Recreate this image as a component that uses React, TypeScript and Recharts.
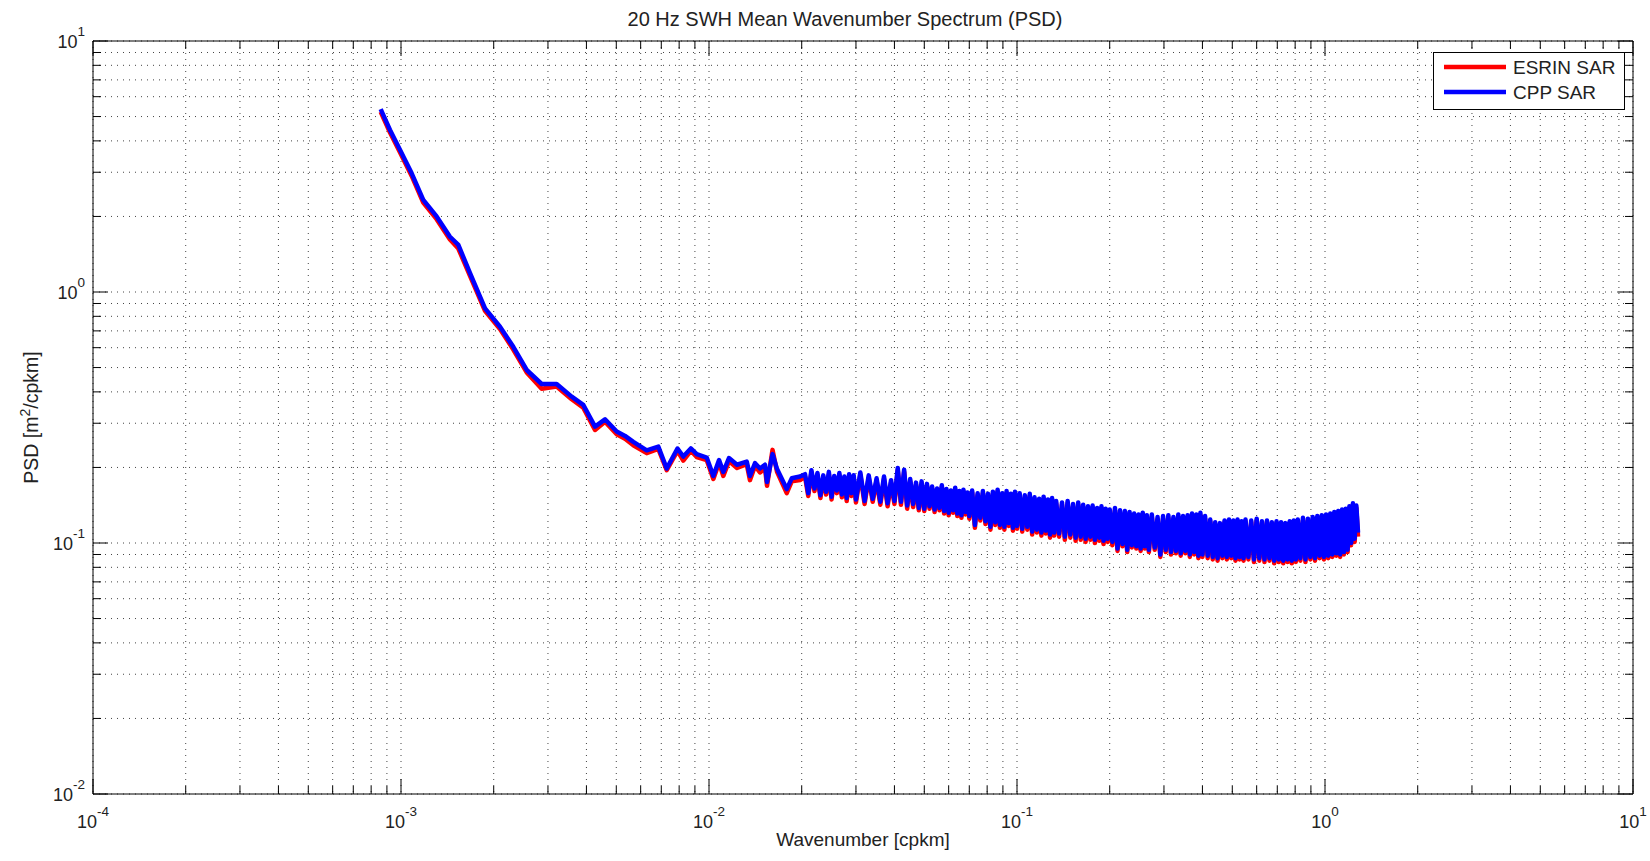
import { LineChart, Line, XAxis, YAxis, CartesianGrid, ReferenceLine } from 'recharts';

// Número de onda [cpkm]
const numeroOnda = [
  8.59e-4, 9.21e-4, 9.93e-4, 1.083e-3, 1.181e-3, 1.305e-3, 1.442e-3, 1.535e-3, 1.675e-3, 1.874e-3,
  2.096e-3, 2.315e-3, 2.559e-3, 2.862e-3, 3.201e-3, 3.582e-3, 3.906e-3, 4.265e-3, 4.596e-3, 5.016e-3,
  5.338e-3, 5.679e-3, 6.277e-3, 6.846e-3, 7.29e-3, 7.9e-3, 8.25e-3, 8.73e-3, 9.12e-3, 9.83e-3,
  1.033e-2, 1.078e-2, 1.113e-2, 1.161e-2, 1.233e-2, 1.326e-2, 1.358e-2, 1.411e-2, 1.464e-2, 1.52e-2,
  1.543e-2, 1.608e-2, 1.663e-2, 1.788e-2, 1.856e-2, 1.975e-2,
  // A
  0.0205, 0.021, 0.0215, 0.022, 0.0225, 0.023, 0.0235, 0.024, 0.0245, 0.025,
  0.0255, 0.026, 0.0265, 0.027, 0.0275, 0.028, 0.0285, 0.029, 0.0295, 0.03,
  // B
  0.031, 0.032, 0.033, 0.034, 0.035, 0.036, 0.037, 0.038, 0.039, 0.04,
  0.041, 0.042, 0.043, 0.044, 0.045, 0.046, 0.047, 0.048, 0.049, 0.05,
  // C
  0.051, 0.052, 0.053, 0.054, 0.055, 0.056, 0.057, 0.058, 0.059, 0.06,
  0.061, 0.062, 0.063, 0.064, 0.065, 0.066, 0.067, 0.068, 0.069, 0.07,
  0.0715, 0.073, 0.0745, 0.076, 0.0775, 0.079, 0.0805, 0.082, 0.0835, 0.085,
  0.0865, 0.088, 0.0895, 0.091, 0.0925, 0.094, 0.0955, 0.097, 0.0985, 0.1,
  // D1
  0.102, 0.104, 0.106, 0.108, 0.11, 0.112, 0.114, 0.116, 0.118, 0.12,
  0.122, 0.124, 0.126, 0.128, 0.13, 0.132, 0.134,
  // D2
  0.137, 0.14, 0.143, 0.146, 0.149, 0.152, 0.155, 0.158, 0.161, 0.164,
  0.167, 0.17, 0.173, 0.176, 0.179, 0.182, 0.185, 0.188, 0.191, 0.194,
  0.197, 0.2,
  // E1
  0.204, 0.208, 0.212, 0.216, 0.22, 0.224, 0.228, 0.232, 0.236, 0.24,
  0.244, 0.248, 0.252, 0.256, 0.26, 0.264, 0.268,
  // E2
  0.274, 0.28, 0.286, 0.292, 0.298, 0.304, 0.31, 0.316, 0.322, 0.328,
  0.334, 0.34, 0.346, 0.352, 0.358, 0.364, 0.37, 0.376, 0.382, 0.388,
  0.394, 0.4,
  // F1
  0.408, 0.416, 0.424, 0.432, 0.44, 0.448, 0.456, 0.464, 0.472, 0.48,
  0.488, 0.496, 0.504, 0.512, 0.52, 0.528, 0.536, 0.544, 0.552,
  // F2
  0.564, 0.576, 0.588, 0.6, 0.612, 0.624, 0.636, 0.648, 0.66, 0.672,
  0.684, 0.696, 0.708, 0.72, 0.732, 0.744, 0.756, 0.768, 0.78, 0.792,
  0.804,
  // F3
  0.816, 0.832, 0.848, 0.864, 0.88, 0.896, 0.912, 0.928, 0.944, 0.96,
  0.976, 0.992, 1.008, 1.024, 1.04, 1.056, 1.072, 1.088, 1.104, 1.12,
  1.136, 1.152, 1.168, 1.184, 1.2, 1.216, 1.232, 1.248, 1.264, 1.28,
];

// PSD ESRIN SAR [m^2/cpkm]
const esrinSar = [
  5.22, 4.32, 3.6, 2.9, 2.27, 1.95, 1.62, 1.49, 1.16, 0.842,
  0.712, 0.59, 0.478, 0.412, 0.42, 0.374, 0.346, 0.282, 0.304, 0.271,
  0.26, 0.245, 0.228, 0.237, 0.195, 0.233, 0.213, 0.233, 0.22, 0.214,
  0.18, 0.209, 0.185, 0.212, 0.199, 0.206, 0.178, 0.203, 0.191, 0.199,
  0.169, 0.235, 0.192, 0.158, 0.176, 0.178,
  // A
  0.184, 0.154, 0.191, 0.161, 0.186, 0.151, 0.182, 0.156, 0.188, 0.149,
  0.181, 0.158, 0.186, 0.152, 0.18, 0.147, 0.184, 0.154, 0.182, 0.145,
  // B
  0.187, 0.143, 0.182, 0.146, 0.177, 0.142, 0.18, 0.14, 0.174, 0.143,
  0.195, 0.142, 0.192, 0.137, 0.176, 0.139, 0.171, 0.135, 0.172, 0.134,
  // C
  0.169, 0.137, 0.165, 0.133, 0.162, 0.135, 0.167, 0.131, 0.161, 0.129,
  0.159, 0.132, 0.163, 0.128, 0.158, 0.126, 0.16, 0.13, 0.156, 0.125,
  0.159, 0.115, 0.155, 0.123, 0.158, 0.119, 0.154, 0.113, 0.157, 0.118,
  0.16, 0.115, 0.155, 0.113, 0.158, 0.117, 0.154, 0.112, 0.157, 0.114,
  // D1
  0.155, 0.111, 0.152, 0.113, 0.154, 0.108, 0.149, 0.11, 0.147, 0.107,
  0.15, 0.109, 0.146, 0.105, 0.148, 0.107, 0.144,
  // D2
  0.106, 0.142, 0.103, 0.144, 0.105, 0.14, 0.102, 0.142, 0.103, 0.139,
  0.101, 0.137, 0.103, 0.138, 0.1, 0.135, 0.102, 0.137, 0.099, 0.134,
  0.101, 0.133,
  // E1
  0.098, 0.135, 0.093, 0.132, 0.097, 0.131, 0.092, 0.13, 0.096, 0.128,
  0.095, 0.127, 0.093, 0.129, 0.095, 0.126, 0.092,
  // E2
  0.127, 0.094, 0.124, 0.088, 0.125, 0.092, 0.126, 0.09, 0.124, 0.091,
  0.127, 0.089, 0.125, 0.091, 0.126, 0.088, 0.128, 0.09, 0.127, 0.087,
  0.129, 0.088,
  // F1
  0.125, 0.087, 0.122, 0.086, 0.119, 0.085, 0.118, 0.087, 0.121, 0.086,
  0.122, 0.087, 0.121, 0.085, 0.122, 0.086, 0.12, 0.085, 0.122,
  // F2
  0.086, 0.121, 0.084, 0.123, 0.085, 0.12, 0.084, 0.121, 0.085, 0.119,
  0.083, 0.12, 0.084, 0.119, 0.083, 0.118, 0.084, 0.12, 0.083, 0.121,
  0.084,
  // F3
  0.122, 0.085, 0.123, 0.084, 0.123, 0.086, 0.124, 0.085, 0.125, 0.087,
  0.126, 0.086, 0.127, 0.087, 0.128, 0.088, 0.13, 0.089, 0.131, 0.088,
  0.133, 0.09, 0.134, 0.092, 0.137, 0.098, 0.141, 0.101, 0.138, 0.106,
];

// PSD CPP SAR [m^2/cpkm]
const cppSar = [
  5.35, 4.42, 3.68, 2.97, 2.33, 2.0, 1.66, 1.54, 1.19, 0.861,
  0.727, 0.605, 0.489, 0.43, 0.43, 0.383, 0.355, 0.291, 0.311, 0.278,
  0.267, 0.253, 0.234, 0.242, 0.198, 0.238, 0.221, 0.238, 0.226, 0.219,
  0.185, 0.214, 0.192, 0.218, 0.205, 0.211, 0.185, 0.208, 0.198, 0.205,
  0.175, 0.226, 0.197, 0.164, 0.181, 0.184,
  // A
  0.188, 0.158, 0.195, 0.165, 0.19, 0.155, 0.186, 0.16, 0.192, 0.153,
  0.185, 0.162, 0.19, 0.156, 0.184, 0.151, 0.188, 0.158, 0.186, 0.149,
  // B
  0.191, 0.147, 0.186, 0.15, 0.181, 0.146, 0.184, 0.144, 0.178, 0.147,
  0.199, 0.146, 0.196, 0.141, 0.18, 0.143, 0.174, 0.138, 0.176, 0.137,
  // C
  0.172, 0.14, 0.168, 0.136, 0.165, 0.138, 0.17, 0.134, 0.164, 0.132,
  0.162, 0.135, 0.166, 0.131, 0.161, 0.129, 0.163, 0.133, 0.159, 0.128,
  0.162, 0.118, 0.158, 0.126, 0.161, 0.122, 0.157, 0.116, 0.16, 0.121,
  0.163, 0.118, 0.158, 0.116, 0.161, 0.12, 0.157, 0.115, 0.16, 0.117,
  // D1
  0.158, 0.114, 0.155, 0.116, 0.157, 0.111, 0.152, 0.113, 0.15, 0.11,
  0.153, 0.112, 0.149, 0.108, 0.151, 0.11, 0.147,
  // D2
  0.109, 0.145, 0.106, 0.147, 0.108, 0.143, 0.105, 0.145, 0.106, 0.142,
  0.104, 0.14, 0.106, 0.141, 0.103, 0.138, 0.105, 0.14, 0.102, 0.137,
  0.104, 0.136,
  // E1
  0.101, 0.138, 0.095, 0.135, 0.099, 0.134, 0.094, 0.133, 0.098, 0.131,
  0.097, 0.13, 0.095, 0.132, 0.097, 0.129, 0.094,
  // E2
  0.13, 0.096, 0.127, 0.09, 0.128, 0.094, 0.129, 0.092, 0.127, 0.093,
  0.13, 0.091, 0.128, 0.093, 0.129, 0.09, 0.131, 0.092, 0.13, 0.089,
  0.132, 0.09,
  // F1
  0.128, 0.089, 0.124, 0.088, 0.121, 0.087, 0.12, 0.089, 0.123, 0.088,
  0.124, 0.089, 0.123, 0.087, 0.124, 0.088, 0.122, 0.087, 0.124,
  // F2
  0.088, 0.123, 0.086, 0.125, 0.087, 0.122, 0.086, 0.123, 0.087, 0.121,
  0.085, 0.122, 0.086, 0.121, 0.085, 0.12, 0.086, 0.122, 0.085, 0.123,
  0.086,
  // F3
  0.124, 0.087, 0.126, 0.086, 0.125, 0.088, 0.127, 0.087, 0.128, 0.089,
  0.129, 0.088, 0.13, 0.089, 0.131, 0.09, 0.133, 0.091, 0.134, 0.09,
  0.136, 0.092, 0.137, 0.094, 0.14, 0.1, 0.144, 0.104, 0.141, 0.11,
];

const ticksX = [
  1e-4, 2e-4, 3e-4, 4e-4, 5e-4, 6e-4, 7e-4, 8e-4, 9e-4,
  1e-3, 2e-3, 3e-3, 4e-3, 5e-3, 6e-3, 7e-3, 8e-3, 9e-3,
  0.01, 0.02, 0.03, 0.04, 0.05, 0.06, 0.07, 0.08, 0.09,
  0.1, 0.2, 0.3, 0.4, 0.5, 0.6, 0.7, 0.8, 0.9,
  1, 2, 3, 4, 5, 6, 7, 8, 9, 10,
];

const ticksY = [
  0.01, 0.02, 0.03, 0.04, 0.05, 0.06, 0.07, 0.08, 0.09,
  0.1, 0.2, 0.3, 0.4, 0.5, 0.6, 0.7, 0.8, 0.9,
  1, 2, 3, 4, 5, 6, 7, 8, 9, 10,
];

const datos = numeroOnda.map((k, i) => ({ k, esrin: esrinSar[i], cpp: cppSar[i] }));

const ANCHO = 1650;
const ALTO = 861;
const MARGEN = { top: 41, right: 17, bottom: 7, left: 8 };
const ANCHO_EJE_Y = 85;
const ALTO_EJE_X = 60;
const PLOT_W = ANCHO - MARGEN.left - MARGEN.right - ANCHO_EJE_Y;
const PLOT_H = ALTO - MARGEN.top - MARGEN.bottom - ALTO_EJE_X;
const PLOT_X = MARGEN.left + ANCHO_EJE_Y;
const PLOT_Y = MARGEN.top;
const FUENTE = '"Liberation Sans", Arial, Helvetica, sans-serif';
const TEXTO = '#222';

const esMayor = (v: number) => {
  const l = Math.log10(v);
  return Math.abs(l - Math.round(l)) < 1e-6;
};

function TickX(props: any) {
  const { x, y, payload } = props;
  const mayor = esMayor(payload.value);
  const largo = mayor ? 15 : 8;
  const exp = Math.round(Math.log10(payload.value));
  return (
    <g>
      <line x1={x} x2={x} y1={y} y2={y - largo} stroke="#000" />
      <line x1={x} x2={x} y1={y - PLOT_H} y2={y - PLOT_H + largo} stroke="#000" />
      {mayor && (
        <text x={x} y={y + 34} textAnchor="middle" fontFamily={FUENTE} fontSize={18} fill={TEXTO}>
          <tspan>10</tspan>
          <tspan dy={-12} fontSize={13.5}>{exp}</tspan>
        </text>
      )}
    </g>
  );
}

function TickY(props: any) {
  const { x, y, payload } = props;
  const mayor = esMayor(payload.value);
  const largo = mayor ? 15 : 8;
  const exp = Math.round(Math.log10(payload.value));
  return (
    <g>
      <line x1={x} x2={x + largo} y1={y} y2={y} stroke="#000" />
      <line x1={x + PLOT_W} x2={x + PLOT_W - largo} y1={y} y2={y} stroke="#000" />
      {mayor && (
        <text x={x - 8} y={y + 7} textAnchor="end" fontFamily={FUENTE} fontSize={18} fill={TEXTO}>
          <tspan>10</tspan>
          <tspan dy={-12} fontSize={13.5}>{exp}</tspan>
        </text>
      )}
    </g>
  );
}

export default function App() {
  const centroX = PLOT_X + PLOT_W / 2;
  const centroY = PLOT_Y + PLOT_H / 2;
  return (
    <div style={{ position: 'absolute', left: 0, top: 0, width: ANCHO, height: ALTO, background: '#fff' }}>
      <LineChart width={ANCHO} height={ALTO} data={datos} margin={MARGEN}>
        <CartesianGrid stroke="#444" strokeDasharray="1 5" />
        <XAxis
          dataKey="k"
          type="number"
          scale="log"
          domain={[1e-4, 10]}
          allowDataOverflow
          ticks={ticksX}
          interval={0}
          height={ALTO_EJE_X}
          tickSize={0}
          tickMargin={0}
          tickLine={false}
          axisLine={{ stroke: '#000' }}
          tick={TickX}
        />
        <YAxis
          type="number"
          scale="log"
          domain={[0.01, 10]}
          allowDataOverflow
          ticks={ticksY}
          interval={0}
          width={ANCHO_EJE_Y}
          tickSize={0}
          tickMargin={0}
          tickLine={false}
          axisLine={{ stroke: '#000' }}
          tick={TickY}
        />
        <ReferenceLine y={10} stroke="#000" />
        <ReferenceLine x={10} stroke="#000" />
        <Line
          type="linear"
          dataKey="esrin"
          name="ESRIN SAR"
          stroke="#ff0000"
          strokeWidth={4.5}
          strokeLinejoin="round"
          dot={false}
          isAnimationActive={false}
        />
        <Line
          type="linear"
          dataKey="cpp"
          name="CPP SAR"
          stroke="#0000ff"
          strokeWidth={4.5}
          strokeLinejoin="round"
          dot={false}
          isAnimationActive={false}
        />
      </LineChart>
      <svg
        width={ANCHO}
        height={ALTO}
        style={{ position: 'absolute', left: 0, top: 0, pointerEvents: 'none' }}
      >
        <text x={centroX - 18} y={26} textAnchor="middle" fontFamily={FUENTE} fontSize={20} fill={TEXTO}>
          20 Hz SWH Mean Wavenumber Spectrum (PSD)
        </text>
        <text x={centroX} y={846} textAnchor="middle" fontFamily={FUENTE} fontSize={19} fill={TEXTO}>
          Wavenumber [cpkm]
        </text>
        <text
          x={0}
          y={0}
          transform={`translate(38, ${centroY}) rotate(-90)`}
          textAnchor="middle"
          fontFamily={FUENTE}
          fontSize={19.5}
          fill={TEXTO}
        >
          <tspan>PSD [m</tspan>
          <tspan dy={-8} fontSize={14}>2</tspan>
          <tspan dy={8}>/cpkm]</tspan>
        </text>
        <g>
          <rect x={1433.5} y={52.5} width={191} height={57} fill="#fff" stroke="#000" />
          <line x1={1444} x2={1506} y1={67} y2={67} stroke="#ff0000" strokeWidth={4.5} />
          <line x1={1444} x2={1506} y1={92} y2={92} stroke="#0000ff" strokeWidth={4.5} />
          <text x={1513} y={74} fontFamily={FUENTE} fontSize={19} fill={TEXTO}>ESRIN SAR</text>
          <text x={1513} y={99} fontFamily={FUENTE} fontSize={19} fill={TEXTO}>CPP SAR</text>
        </g>
      </svg>
    </div>
  );
}
